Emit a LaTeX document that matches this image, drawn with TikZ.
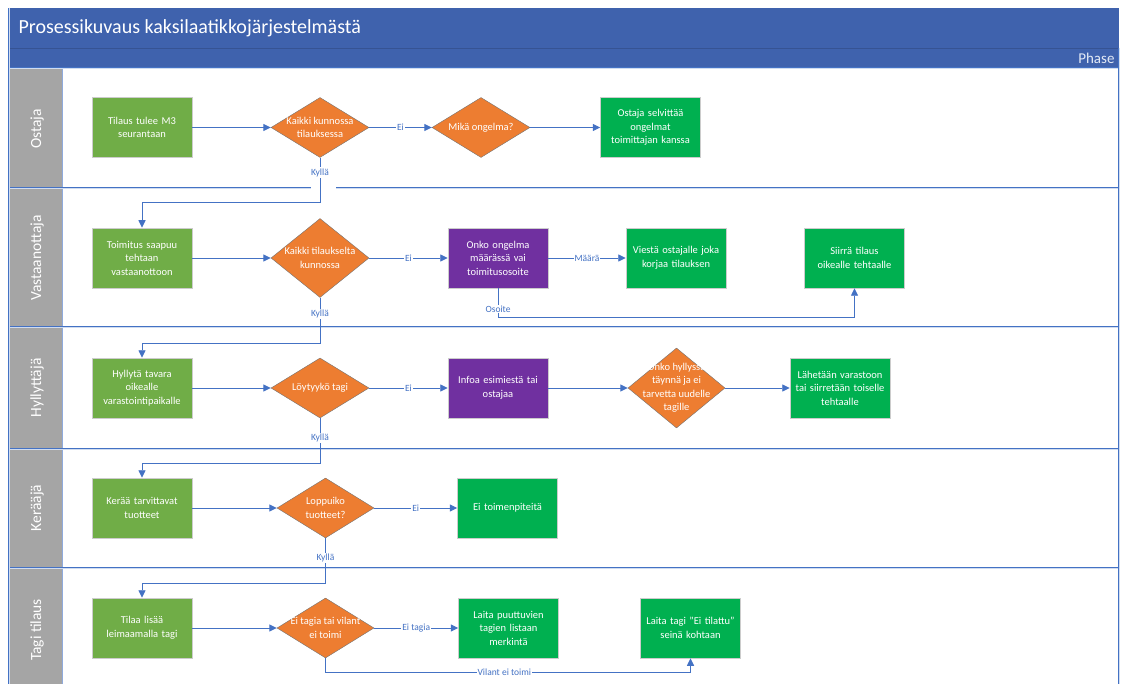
\documentclass[tikz,border=0pt]{standalone}
\usepackage{fontspec}
\setmainfont{Carlito}
\usetikzlibrary{
arrows.meta,
shapes.geometric
}
\definecolor{TitleBlue}{HTML}{3F62AD}
\definecolor{LineBlue}{HTML}{4472C4}
\definecolor{LaneGray}{HTML}{A5A5A5}
\definecolor{StepGreen}{HTML}{70AD47}
\definecolor{EndGreen}{HTML}{00B050}
\definecolor{AskOrange}{HTML}{ED7D31}
\definecolor{InfoPurple}{HTML}{7030A0}

\begin{document}
\begin{tikzpicture}[x=1pt,y=-1pt,>={Triangle[length=7.5pt,width=7pt]},
    every node/.style={font=\fontsize{10.5}{13.5}\selectfont},
    stepbox/.style={rectangle, fill=StepGreen, draw=white!80!black, line width=0.5pt, text=white,
        minimum width=100pt, minimum height=60pt, inner sep=2pt, text width=96pt, align=center},
    endbox/.style={stepbox, fill=EndGreen},
    infobox/.style={stepbox, fill=InfoPurple},
    ask/.style={diamond, fill=AskOrange, draw=black!55, line width=0.4pt,
        minimum width=98pt, minimum height=60pt, inner sep=0pt},
    asktext/.style={text=white, align=center, inner sep=0pt},
    flow/.style={->, LineBlue, line width=0.9pt},
    lbl/.style={fill=white, text=LineBlue, inner sep=1pt, font=\fontsize{9.5}{11}\selectfont},
    lane/.style={LineBlue, double=LineBlue!25, double distance=0.8pt, line width=0.6pt}]
    \useasboundingbox (0,0) rectangle (1121,684);

    % title and phase band
    \fill[TitleBlue] (9,8) rectangle (1119,68);
    \draw[TitleBlue!85!black, line width=0.6pt] (9,48) -- (1119,48);
    \node[anchor=west, text=white, font=\fontsize{20}{24}\selectfont] (title) at (15,28) {Prosessikuvaus kaksilaatikkojärjestelmästä};
    \node[anchor=east, text=white!85!LineBlue, font=\fontsize{15}{18}\selectfont] (phase) at (1118,58) {Phase};

    % swimlanes
    \fill[LaneGray] (9,68) rectangle (62,684);
    \draw[LineBlue!60, line width=0.6pt] (62,68) -- (62,684);
    \foreach \y in {68,188,327,449,568} {
        \draw[lane] (9,\y) -- (1119,\y);
    }
    \draw[lane] (9,8) -- (9,684);
    \draw[lane] (1119,48) -- (1119,684);
    \fill[white] (311,185) rectangle (336,192);
    \foreach \y/\name [count=\i] in {129/Ostaja,258/Vastaanottaja,388/Hyllyttäjä,508/Kerääjä,630/Tagi tilaus} {
        \node[rotate=90, text=white, font=\fontsize{15.5}{18}\selectfont] (lane\i) at (37,\y) {\name};
    }

    % Ostaja
    \node[stepbox] (b1) at (142,127.5) {Tilaus tulee M3\\seurantaan};
    \node[ask, label={[asktext]center:{Kaikki kunnossa\\tilauksessa}}] (d1) at (320,127.5) {};
    \node[ask, label={[asktext]center:{Mikä ongelma?}}] (d2) at (481,127.5) {};
    \node[endbox] (b2) at (650.5,127.5) {Ostaja selvittää\\ongelmat\\toimittajan kanssa};

    % Vastaanottaja
    \node[stepbox] (b3) at (142,258) {Toimitus saapuu\\tehtaan\\vastaanottoon};
    \node[ask, minimum height=79pt, label={[asktext]center:{Kaikki tilaukselta\\kunnossa}}] (d3) at (320,258) {};
    \node[infobox] (p1) at (498,258) {Onko ongelma\\määrässä vai\\toimitusosoite};
    \node[endbox] (b4) at (676,258) {Viestä ostajalle joka\\korjaa tilauksen};
    \node[endbox] (b5) at (854.5,258) {Siirrä tilaus\\oikealle tehtaalle};

    % Hyllyttäjä
    \node[stepbox] (b6) at (142,388) {Hyllytä tavara\\oikealle\\varastointipaikalle};
    \node[ask, label={[asktext]center:{Löytyykö tagi}}] (d5) at (320,388) {};
    \node[infobox] (p2) at (498,388) {Infoa esimiestä tai\\ostajaa};
    \node[ask, minimum width=97pt, minimum height=80pt, label={[asktext]center:{Onko hyllyssä\\täynnä ja ei\\tarvetta uudelle\\tagille}}] (d6) at (676.5,388) {};
    \node[endbox] (b7) at (840,388) {Lähetään varastoon\\tai siirretään toiselle\\tehtaalle};

    % Kerääjä
    \node[stepbox] (b8) at (142,508) {Kerää tarvittavat\\tuotteet};
    \node[ask, minimum width=97pt, label={[asktext]center:{Loppuiko\\tuotteet?}}] (d7) at (325.5,508) {};
    \node[endbox] (b9) at (507.5,508) {Ei toimenpiteitä};

    % Tagi tilaus
    \node[stepbox] (b10) at (142,628) {Tilaa lisää\\leimaamalla tagi};
    \node[ask, minimum width=97pt, label={[asktext]center:{Ei tagia tai vilant\\ei toimi}}] (d8) at (325.5,628) {};
    \node[endbox] (b11) at (508.5,628) {Laita puuttuvien\\tagien listaan\\merkintä};
    \node[endbox] (b12) at (690.5,628) {Laita tagi "Ei tilattu"\\seinä kohtaan};

    % connectors
    \draw[flow] (b1) -- (d1);
    \draw[flow] (d1) -- node[lbl]{Ei} (d2);
    \draw[flow] (d2) -- (b2);
    \draw[flow] (d1.south) -- node[lbl, pos=0.33]{Kyllä} ++(0,45) -| (b3.north);

    \draw[flow] (b3) -- (d3);
    \draw[flow] (d3) -- node[lbl]{Ei} (p1);
    \draw[flow] (p1) -- node[lbl]{Määrä} (b4);
    \draw[flow] (p1.south) -- node[lbl, pos=0.72]{Osoite} ++(0,29) -| (b5.south);
    \draw[flow] (d3.south) -- node[lbl, pos=0.35]{Kyllä} ++(0,46) -| (b6.north);

    \draw[flow] (b6) -- (d5);
    \draw[flow] (d5) -- node[lbl]{Ei} (p2);
    \draw[flow] (p2) -- (d6);
    \draw[flow] (d6) -- (b7);
    \draw[flow] (d5.south) -- node[lbl, pos=0.44]{Kyllä} ++(0,45) -| (b8.north);

    \draw[flow] (b8) -- (d7);
    \draw[flow] (d7) -- node[lbl]{Ei} (b9);
    \draw[flow] (d7.south) -- node[lbl, pos=0.44]{Kyllä} ++(0,45) -| (b10.north);

    \draw[flow] (b10) -- (d8);
    \draw[flow] (d8) -- node[lbl]{Ei tagia} (b11);
    \draw[flow] (d8.south) -- ++(0,14) -| node[lbl, pos=0.245]{Vilant ei toimi} (b12.south);
\end{tikzpicture}
\end{document}
